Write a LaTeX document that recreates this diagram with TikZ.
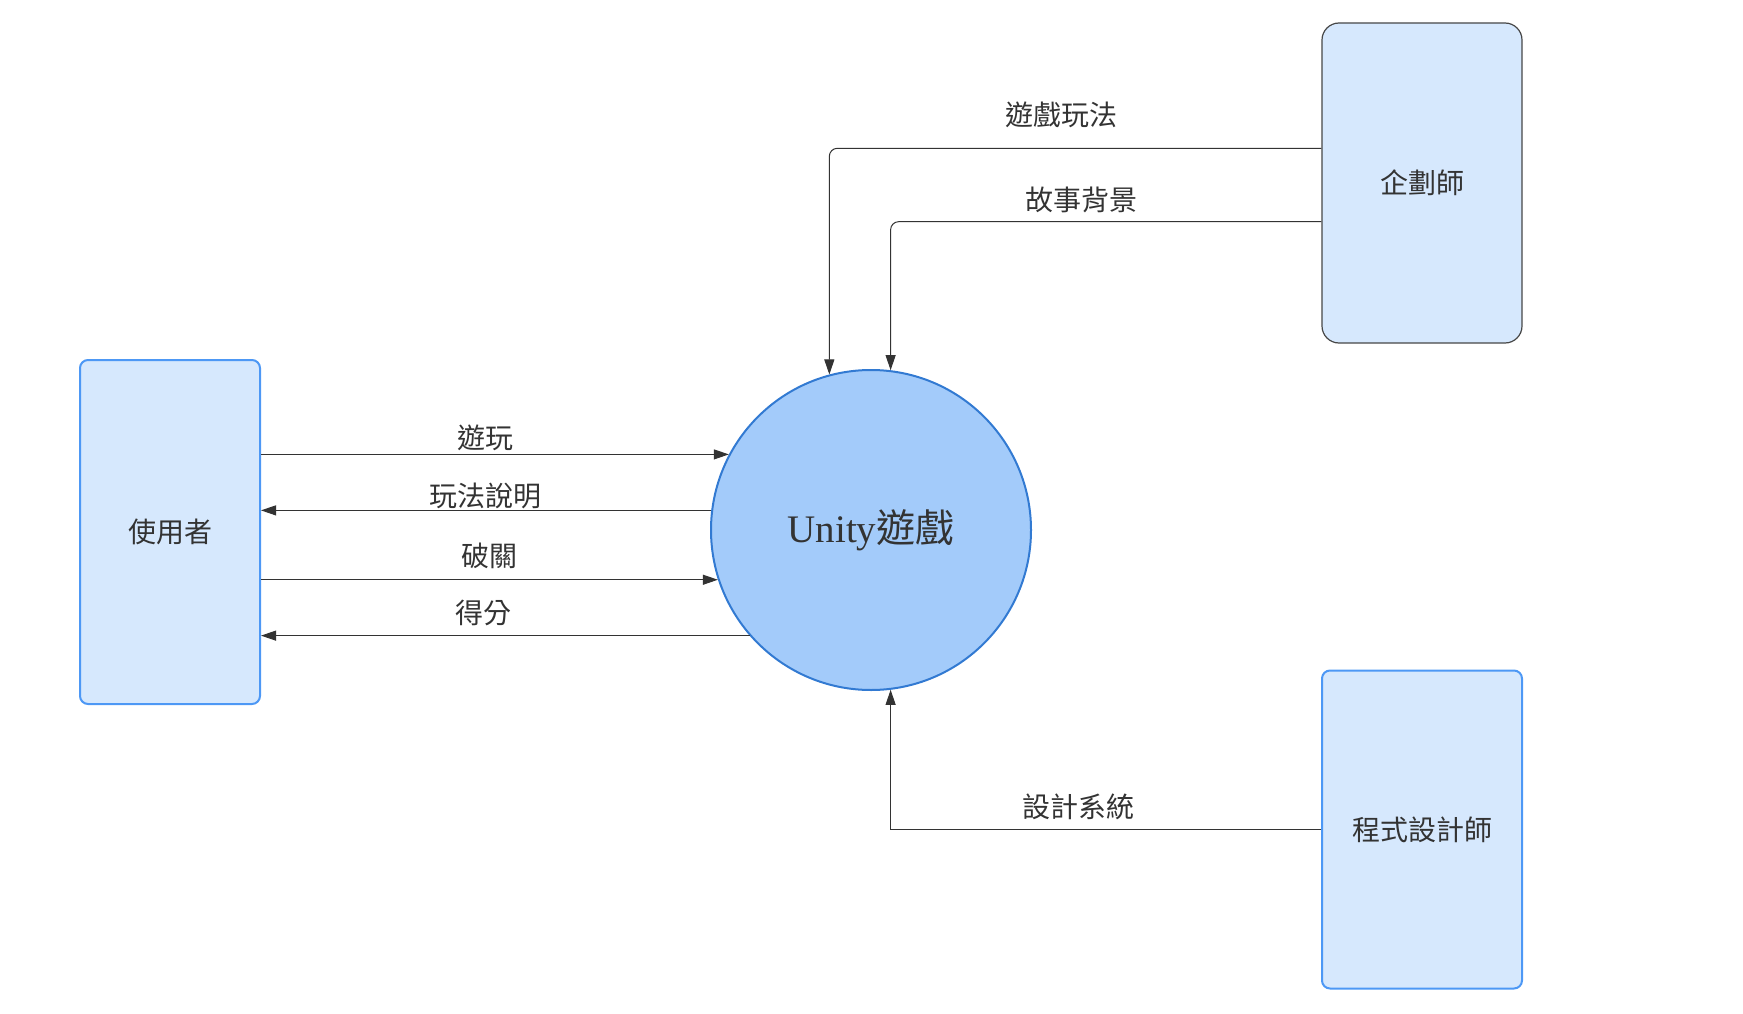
\documentclass[tikz,border=0pt]{standalone}
\usepackage{fontspec}
\setmainfont{Liberation Serif}
\newfontfamily\cjk{Noto Sans CJK TC}
\usetikzlibrary{arrows.meta, positioning}
\definecolor{ink}{HTML}{333333}
\definecolor{boxfill}{RGB}{214,232,253}
\definecolor{boxline}{RGB}{77,152,245}
\definecolor{circfill}{RGB}{163,203,250}
\definecolor{circline}{RGB}{50,122,210}
\newcommand{\lblfont}{\cjk\fontsize{28}{32}\selectfont}

\begin{document}
\begin{tikzpicture}[x=1pt, y=-1pt,
	entity/.style={draw=boxline, line width=2pt, fill=boxfill, rounded corners=8pt,
		minimum width=180pt, minimum height=344pt, text=ink, font=\lblfont},
	process/.style={circle, draw=circline, line width=2pt, fill=circfill,
		minimum size=320pt, inner sep=0pt, text=ink, font=\fontsize{39}{44}\selectfont},
	flow/.style={draw=ink, line width=1pt, -{Triangle[length=15pt, width=10pt]}},
	lbl/.style={text=ink, font=\lblfont, inner sep=0pt}]
	\useasboundingbox (0,0) rectangle (1743,1014);
	% Process
	\node[process] (game) at (871,530) {Unity{\cjk 遊戲}};
	% External entities
	\node[entity] (user) at (170,532) {使用者};
	\node[entity, draw=ink!90, line width=1.2pt, rounded corners=17pt,
		minimum width=200pt, minimum height=320pt] (planner) at (1422,183) {企劃師};
	\node[entity, minimum width=200pt, minimum height=318pt] (coder) at (1422,829.5) {程式設計師};
	% User <-> game
	\draw[flow] (user.east |- game.152.25) -- node[lbl, xshift=-9.5pt, yshift=16.5pt] {遊玩} (game.152.25);
	\draw[flow] (game.173.5) -- node[lbl, xshift=-1pt, yshift=14pt] {玩法說明} (user.east |- game.173.5);
	\draw[flow] (user.east |- game.198.6) -- node[lbl, yshift=24pt] {破關} (game.198.6);
	\draw[flow] (game.221.5) -- node[lbl, xshift=-22pt, yshift=23pt] {得分} (user.east |- game.221.5);
	% Planner -> game
	\draw[flow, rounded corners=8pt] ([yshift=34.7pt]planner.west) -| node[lbl, pos=0.25, xshift=-14pt, yshift=33pt] {遊戲玩法} (game.105.8);
	\draw[flow, rounded corners=8pt] ([yshift=-38.7pt]planner.west) -| node[lbl, pos=0.25, xshift=-25pt, yshift=22pt] {故事背景} (game.83.5);
	% Programmer -> game
	\draw[flow] (coder.west) -| node[lbl, pos=0.25, xshift=-27pt, yshift=23pt] {設計系統} (game.277.9);
\end{tikzpicture}
\end{document}
